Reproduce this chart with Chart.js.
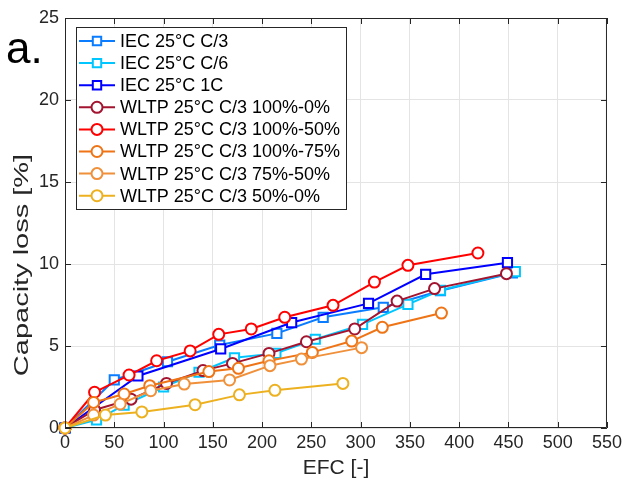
<!DOCTYPE html>
<html>
<head>
<meta charset="utf-8">
<script src="https://cdn.jsdelivr.net/npm/chart.js@4.4.1/dist/chart.umd.min.js"></script>
<style>
  html, body { margin: 0; padding: 0; background: #fff; }
  #wrap { width: 626px; height: 481px; position: relative; }
</style>
</head>
<body>
<div id="wrap"><canvas id="chart"></canvas></div>
<script>
// ---- data ----
const seriesLabels = [
    'IEC 25°C C/3',
    'IEC 25°C C/6',
    'IEC 25°C 1C',
    'WLTP 25°C C/3 100%-0%',
    'WLTP 25°C C/3 100%-50%',
    'WLTP 25°C C/3 100%-75%',
    'WLTP 25°C C/3 75%-50%',
    'WLTP 25°C C/3 50%-0%'
];

const iecC3Efc  = [0, 50, 104, 157, 215, 262, 323, 381, 454];
const iecC3Loss = [0, 2.93, 4.04, 5.06, 5.77, 6.75, 7.36, 8.37, 9.45];

const iecC6Efc  = [0, 32, 60, 100, 136, 172, 214, 254, 302, 348, 381, 457];
const iecC6Loss = [0, 0.5, 1.4, 2.5, 3.4, 4.28, 4.55, 5.41, 6.32, 7.54, 8.4, 9.53];

const iec1CEfc  = [0, 74, 158, 230, 308, 366, 449];
const iec1CLoss = [0, 3.17, 4.82, 6.43, 7.6, 9.37, 10.08];

const wltp100to0Efc  = [0, 30, 67, 103, 140, 170, 207, 245, 294, 337, 375, 448];
const wltp100to0Loss = [0, 1.1, 1.76, 2.72, 3.5, 3.94, 4.55, 5.26, 6.04, 7.74, 8.5, 9.41];

const wltp100to50Efc  = [0, 30, 65, 93, 127, 156, 189, 223, 272, 314, 348, 419];
const wltp100to50Loss = [0, 2.18, 3.23, 4.1, 4.7, 5.71, 6.04, 6.75, 7.48, 8.9, 9.92, 10.67];

const wltp100to75Efc  = [0, 29, 60, 86, 146, 176, 207, 251, 291, 322, 382];
const wltp100to75Loss = [0, 1.56, 2.07, 2.58, 3.44, 3.64, 4.1, 4.61, 5.3, 6.14, 7.01];

const wltp75to50Efc  = [0, 29, 56, 87, 121, 167, 208, 240, 301];
const wltp75to50Loss = [0, 0.79, 1.46, 2.27, 2.68, 2.93, 3.8, 4.2, 4.9];

const wltp50to0Efc  = [0, 41, 78, 132, 177, 213, 282];
const wltp50to0Loss = [0, 0.79, 0.98, 1.42, 2.02, 2.3, 2.72];

const xTicks = [0, 50, 100, 150, 200, 250, 300, 350, 400, 450, 500, 550];
const yTicks = [0, 5, 10, 15, 20, 25];

// ---- styling ----
const FONT = '"Liberation Sans", Arial, Helvetica, sans-serif';
const TEXT_COLOR = '#262626';
const seriesColors = ['#0a7cff', '#00c6ff', '#0000ff', '#a2142f', '#ff0000', '#ef7416', '#f0903a', '#edb120'];
const seriesMarkers = ['rect', 'rect', 'rect', 'circle', 'circle', 'circle', 'circle', 'circle'];

function toPoints(xs, ys) {
    return xs.map((x, i) => ({ x: x, y: ys[i] }));
}

const seriesData = [
    toPoints(iecC3Efc, iecC3Loss),
    toPoints(iecC6Efc, iecC6Loss),
    toPoints(iec1CEfc, iec1CLoss),
    toPoints(wltp100to0Efc, wltp100to0Loss),
    toPoints(wltp100to50Efc, wltp100to50Loss),
    toPoints(wltp100to75Efc, wltp100to75Loss),
    toPoints(wltp75to50Efc, wltp75to50Loss),
    toPoints(wltp50to0Efc, wltp50to0Loss)
];

const datasets = seriesData.map((data, i) => ({
    label: seriesLabels[i],
    data: data,
    showLine: true,
    borderColor: seriesColors[i],
    backgroundColor: '#ffffff',
    borderWidth: 2,
    tension: 0,
    pointStyle: seriesMarkers[i],
    pointRadius: seriesMarkers[i] === 'rect' ? 6.5 : 5.5,
    pointBorderWidth: 2,
    pointBackgroundColor: '#ffffff',
    pointBorderColor: seriesColors[i],
    clip: false,
    // later series drawn on top, like the original
    order: seriesData.length - i
}));

// Box, inward ticks, y title, panel letter and in-axes legend
const matlabAxesPlugin = {
    id: 'matlabAxes',
    afterDatasetsDraw(chart) {
        const ctx = chart.ctx;
        const area = chart.chartArea;
        const xs = chart.scales.x;
        const ys = chart.scales.y;
        ctx.save();
        ctx.strokeStyle = '#262626';
        ctx.lineWidth = 1;
        ctx.beginPath();
        ctx.rect(area.left + 0.5, area.top + 0.5, area.right - area.left - 1, area.bottom - area.top - 1);
        ctx.stroke();

        ctx.beginPath();
        xTicks.forEach(v => {
            const px = Math.round(xs.getPixelForValue(v)) + 0.5;
            ctx.moveTo(px, area.bottom);
            ctx.lineTo(px, area.bottom - 6);
            ctx.moveTo(px, area.top);
            ctx.lineTo(px, area.top + 6);
        });
        yTicks.forEach(v => {
            const py = Math.round(ys.getPixelForValue(v)) + 0.5;
            ctx.moveTo(area.left, py);
            ctx.lineTo(area.left + 6, py);
            ctx.moveTo(area.right, py);
            ctx.lineTo(area.right - 6, py);
        });
        ctx.stroke();

        // legend
        const lx = 76, ly = 27, lw = 270, lh = 182, rowH = 22.1;
        ctx.fillStyle = '#ffffff';
        ctx.fillRect(lx, ly, lw, lh);
        ctx.strokeStyle = '#262626';
        ctx.strokeRect(lx + 0.5, ly + 0.5, lw, lh);
        ctx.font = '18px ' + FONT;
        ctx.textBaseline = 'middle';
        ctx.textAlign = 'left';
        chart.data.datasets.forEach((ds, i) => {
            const y = ly + 14 + i * rowH;
            ctx.strokeStyle = ds.borderColor;
            ctx.lineWidth = 2;
            ctx.beginPath();
            ctx.moveTo(79, y);
            ctx.lineTo(115, y);
            ctx.stroke();
            ctx.fillStyle = '#ffffff';
            ctx.beginPath();
            if (ds.pointStyle === 'rect') {
                ctx.rect(97 - 4.2, y - 4.2, 8.4, 8.4);
            } else {
                ctx.arc(97, y, 5.5, 0, Math.PI * 2);
            }
            ctx.fill();
            ctx.stroke();
            ctx.fillStyle = '#000000';
            ctx.fillText(ds.label, 120, y + 1);
        });

        // y axis title (drawn here so it can be sized like the original)
        ctx.save();
        ctx.translate(22, 265);
        ctx.rotate(-Math.PI / 2);
        ctx.scale(1.38, 1);
        ctx.fillStyle = TEXT_COLOR;
        ctx.font = '21px ' + FONT;
        ctx.textAlign = 'center';
        ctx.textBaseline = 'middle';
        ctx.fillText('Capacity loss [%]', 0, 0);
        ctx.restore();

        // panel letter
        ctx.fillStyle = '#000000';
        ctx.font = '44px ' + FONT;
        ctx.textAlign = 'left';
        ctx.textBaseline = 'alphabetic';
        ctx.fillText('a.', 6, 63);
        ctx.restore();
    }
};

new Chart(document.getElementById('chart').getContext('2d'), {
    type: 'scatter',
    data: { datasets: datasets },
    options: {
        responsive: true,
        maintainAspectRatio: false,
        animation: false,
        layout: { padding: { left: 0, right: 17, top: 18, bottom: 0 } },
        scales: {
            x: {
                type: 'linear',
                min: 0,
                max: 550,
                afterBuildTicks: s => { s.ticks = xTicks.map(v => ({ value: v })); },
                afterFit: s => { s.height = 53; },
                grid: { color: '#e4e4e4', drawTicks: false },
                border: { display: false },
                ticks: { color: TEXT_COLOR, font: { family: FONT, size: 18 }, padding: 4, maxRotation: 0 },
                title: { display: true, text: 'EFC [-]', color: TEXT_COLOR, font: { family: FONT, size: 21 }, padding: { top: 0, bottom: 0 } }
            },
            y: {
                type: 'linear',
                min: 0,
                max: 25,
                afterBuildTicks: s => { s.ticks = yTicks.map(v => ({ value: v })); },
                afterFit: s => { s.width = 65; },
                grid: { color: '#e4e4e4', drawTicks: false },
                border: { display: false },
                ticks: { color: TEXT_COLOR, font: { family: FONT, size: 18 }, padding: 6 },
                title: { display: false }
            }
        },
        plugins: {
            legend: { display: false },
            tooltip: { enabled: false }
        }
    },
    plugins: [matlabAxesPlugin]
});
</script>
</body>
</html>
